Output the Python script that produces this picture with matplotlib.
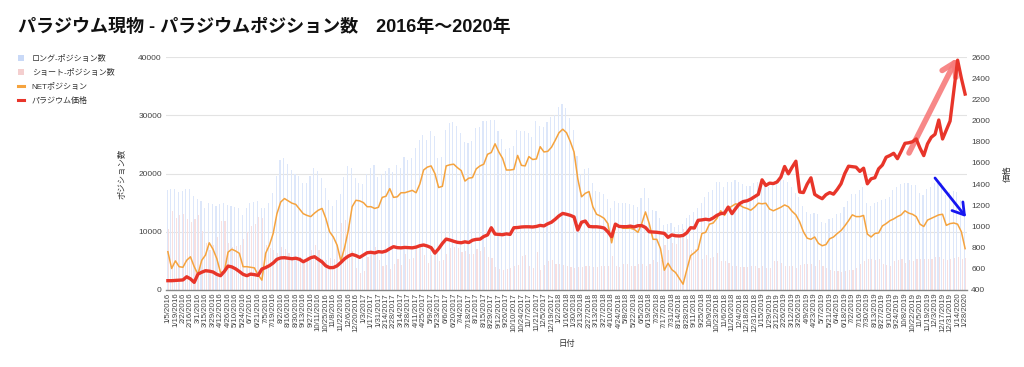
import matplotlib
matplotlib.use("Agg")
import matplotlib.pyplot as plt
from matplotlib.patches import Patch
from matplotlib.lines import Line2D
import pandas as pd
import numpy as np

plt.rcParams['font.family'] = ['Liberation Sans', 'Noto Sans CJK JP', 'DejaVu Sans']

# ---------------- data ----------------
dates = pd.date_range('2016-01-05', periods=213, freq='7D')
date_labels = [f"{d.month}/{d.day}/{d.year}" for d in dates]
date_labels[156] = "12/31/2018"

long_pos = [
    17100, 17300, 17400, 16800, 17000, 17300, 17300, 16200, 15600, 15200,
    14000, 15000, 14700, 14500, 14800, 15000, 14600, 14400, 14300, 14000,
    12800, 14000, 14900, 15100, 15200, 14000, 14000, 14900, 16600, 19500,
    22400, 22700, 21600, 20600, 20000, 19500, 18300, 18400, 19500, 21000,
    20500, 19300, 17500, 15500, 14500, 15400, 16500, 19400, 21300, 21000,
    19200, 18300, 18200, 19900, 21000, 21400, 19400, 20000, 20400, 21000,
    20300, 21400, 21000, 22800, 22300, 22600, 24300, 25800, 26600, 25700,
    27300, 26400, 22600, 22900, 27400, 28700, 28900, 28200, 27000, 25400,
    25300, 25500, 27800, 28000, 29000, 29000, 29100, 29100, 27300, 26000,
    24200, 24300, 24800, 27400, 27300, 27300, 27000, 26200, 29000, 28100,
    28000, 28800, 29700, 30100, 31400, 31900, 31200, 29500, 27500, 23000,
    20000, 20800, 21000, 18300, 17000, 16800, 16500, 15600, 14000, 15200,
    15000, 15000, 15000, 14800, 14600, 14300, 15800, 17500, 15800, 13800,
    13500, 12300, 11200, 11400, 11500, 10900, 11200, 11400, 12300, 12800,
    13400, 14000, 15000, 15900, 16800, 17200, 18600, 18500, 17700, 18600,
    18600, 18900, 18600, 18200, 17900, 17900, 18300, 18600, 18900, 18600,
    17700, 18600, 18900, 18900, 18800, 18500, 17700, 16600, 16000, 14400,
    13400, 13100, 13300, 13100, 11700, 11500, 12200, 12400, 13000, 13300,
    14200, 15300, 16400, 16400, 17100, 17700, 15000, 14500, 14900, 15100,
    15400, 15700, 16000, 17100, 17700, 18200, 18300, 18400, 18000, 18000,
    16600, 16300, 17400, 17700, 18300, 18500, 18300, 16300, 16800, 17000,
    16900, 15400, 12600,
]

short_pos = [
    10500, 13600, 12400, 12800, 13100, 12200, 11600, 12200, 12900, 10100,
    8000, 6900, 7700, 9100, 11800, 11900, 8100, 7400, 7600, 7700,
    8800, 10000, 11000, 11300, 12600, 12300, 7700, 7200, 6900, 6400,
    7300, 7000, 6300, 5700, 5300, 5600, 5200, 5600, 6900, 7800,
    6800, 5300, 5200, 5500, 5400, 7700, 11500, 12100, 11000, 6700,
    3800, 3000, 3200, 5600, 6700, 7400, 5200, 4100, 4300, 3600,
    4400, 5400, 4300, 6100, 5400, 5500, 7600, 7600, 6000, 4600,
    6000, 6400, 5000, 5100, 6100, 7200, 7300, 7200, 6500, 6700,
    6100, 6200, 7000, 6700, 7400, 5700, 5500, 4000, 3600, 3400,
    3600, 3700, 4100, 4300, 5900, 6000, 4100, 3800, 6500, 3500,
    4300, 5000, 5200, 4400, 4400, 4300, 4200, 4000, 3800, 3900,
    4000, 4200, 4100, 4000, 4000, 4100, 4200, 4200, 5900, 4200,
    4000, 4400, 4400, 4200, 4200, 4400, 4400, 4100, 4400, 5100,
    4800, 5200, 7800, 6800, 8000, 7900, 9200, 10400, 8800, 6900,
    7000, 7000, 5300, 6000, 5500, 5700, 6300, 4900, 4900, 4600,
    4200, 4100, 4000, 4000, 3900, 4200, 4100, 3700, 4100, 3700,
    3800, 5000, 5000, 4700, 4200, 4200, 4200, 3700, 4300, 4400,
    4500, 4400, 4200, 5100, 4100, 3700, 3400, 3300, 3300, 3100,
    3200, 3400, 3500, 3800, 4500, 4900, 5400, 5400, 5200, 5300,
    4400, 4300, 4100, 4900, 5100, 5300, 4700, 5200, 5000, 5400,
    5300, 5400, 5400, 5400, 5700, 5600, 5300, 5200, 5400, 5500,
    5600, 5400, 5500,
]

net_pos = [
    6570, 3700, 5000, 4000, 3900, 5100, 5700, 4000, 2700, 5100,
    6000, 8100, 7000, 5400, 3000, 3100, 6500, 7000, 6700, 6300,
    4000, 4000, 3900, 3800, 2600, 1700, 6300, 7700, 9700, 13100,
    15100, 15700, 15300, 14900, 14700, 13900, 13100, 12800, 12600, 13200,
    13700, 14000, 12300, 10000, 9100, 7700, 5000, 7300, 10300, 14300,
    15400, 15300, 15000, 14300, 14300, 14000, 14200, 15900, 16100, 17400,
    15900, 16000, 16700, 16700, 16900, 17100, 16700, 18200, 20600, 21100,
    21300, 20000, 17600, 17800, 21300, 21500, 21600, 21000, 20500, 18700,
    19200, 19300, 20800, 21300, 21600, 23300, 23600, 25100, 23700, 22600,
    20600, 20600, 20700, 23100, 21400, 21300, 22900, 22400, 22500, 24600,
    23700, 23800, 24500, 25700, 27000, 27600, 27000, 25500, 23700, 19100,
    16000, 16600, 16900, 14300, 13000, 12700, 12300, 11400, 8100, 11000,
    11000, 10600, 10600, 10600, 10400, 9900, 11400, 13400, 11400, 8700,
    8700, 7100, 3400, 4600, 3500, 3000, 2000, 1000, 3500, 5900,
    6400, 7000, 9700, 9900, 11300, 11500, 12300, 13600, 12800, 14000,
    14400, 14800, 14600, 14200, 14000, 13700, 14200, 14900, 14800, 14900,
    13900, 13600, 13900, 14200, 14600, 14300, 13500, 12900, 11700, 10000,
    8900, 8700, 9100, 8000, 7600, 7800, 8800, 9100, 9700, 10200,
    11000, 11900, 12900, 12600, 12600, 12800, 9600, 9100, 9700, 9800,
    11000, 11400, 11900, 12200, 12600, 12900, 13600, 13200, 13000, 12600,
    11300, 10900, 12000, 12300, 12600, 12900, 13000, 11100, 11400, 11500,
    11300, 10000, 7100,
]

price = [
    488, 488, 490, 492, 495, 525, 505, 472, 550, 568,
    582, 578, 570, 548, 535, 575, 626, 618, 600, 575,
    548, 535, 550, 545, 538, 598, 612, 630, 655, 690,
    703, 705, 700, 695, 700, 690, 667, 685, 705, 714,
    690, 665, 628, 611, 612, 628, 660, 695, 720, 736,
    725, 708, 730, 752, 756, 750, 762, 758, 768, 790,
    809, 800, 798, 802, 800, 798, 805, 818, 825, 815,
    800, 748, 790, 840, 881, 872, 860, 850, 846, 855,
    848, 870, 878, 880, 905, 920, 988, 928, 925, 922,
    930, 925, 988, 990, 995, 997, 997, 995, 1000, 1010,
    1005, 1025, 1040, 1068, 1100, 1123, 1115, 1105, 1090, 966,
    1040, 1051, 1000, 997, 997, 993, 985, 950, 903, 1022,
    1000, 998, 998, 1003, 995, 1007, 1008, 990, 950, 948,
    945, 940, 935, 897, 920, 912, 910, 915, 940, 988,
    985, 1058, 1062, 1068, 1062, 1080, 1105, 1121, 1125, 1183,
    1121, 1170, 1215, 1235, 1242, 1258, 1280, 1303, 1440, 1387,
    1409, 1405, 1420, 1466, 1566, 1497, 1560, 1616, 1325, 1320,
    1400, 1459, 1303, 1280, 1262, 1300, 1320, 1305, 1350, 1403,
    1500, 1569, 1565, 1560, 1520, 1550, 1403, 1450, 1460, 1544,
    1580, 1654, 1670, 1691, 1640, 1710, 1785, 1790, 1800, 1826,
    1740, 1669, 1780, 1842, 1870, 2005, 1826, 1910, 1995, 2280,
    2570, 2400, 2250,
]

title = "パラジウム現物 - パラジウムポジション数　2016年〜2020年"
legend_labels = ["ロング-ポジション数", "ショート-ポジション数", "NETポジション", "パラジウム価格"]
left_ticks = [0, 10000, 20000, 30000, 40000]
right_ticks = [400, 600, 800, 1000, 1200, 1400, 1600, 1800, 2000, 2200, 2400, 2600]

# ---------------- figure ----------------
W, H = 1024, 367
fig = plt.figure(figsize=(W / 100, H / 100), dpi=100)
ax = fig.add_axes([166 / W, 1 - 290 / H, (967 - 166) / W, (290 - 57) / H])
ax2 = ax.twinx()

x = np.arange(len(long_pos))
c_long = '#c9d9f7'
c_short = '#f4cfcf'
c_net = '#f5a33e'
c_price = '#e8352a'

ax.bar(x - 0.2, long_pos, width=0.3, color='#dde7fa', linewidth=0, zorder=2)
ax.bar(x + 0.2, short_pos, width=0.3, color='#f8e0e0', linewidth=0, zorder=2)
ax.plot(x, net_pos, color=c_net, lw=1.1, zorder=3)
ax2.plot(x, price, color=c_price, lw=2.4, zorder=4, solid_joinstyle='round')

ax.set_xlim(-0.5, len(x) - 0.5)
ax.set_ylim(0, 40000)
ax2.set_ylim(400, 2600)

ax.set_yticks(left_ticks)
ax.set_yticklabels([str(v) for v in left_ticks])
ax2.set_yticks(right_ticks)
ax2.set_yticklabels([str(v) for v in right_ticks])

ax.set_xticks(x[::2])
ax.set_xticklabels(date_labels[::2], rotation=90, fontsize=5.6, color='#333333')

for a in (ax, ax2):
    for s in a.spines.values():
        s.set_visible(False)
    a.tick_params(axis='both', length=0, labelsize=6, colors='#444444')
ax.tick_params(axis='x', pad=2, labelsize=5.6)
ax.tick_params(axis='y', pad=3)
ax2.tick_params(axis='y', pad=3)
ax.spines['bottom'].set_visible(True)
ax.spines['bottom'].set_color('#888888')
ax.spines['bottom'].set_linewidth(1.0)
ax.spines['bottom'].set_zorder(5)

ax.grid(axis='y', color='#e3e3e3', lw=0.8, zorder=0)
ax.set_axisbelow(True)

ax.set_ylabel("ポジション数", fontsize=6, color='#333333', labelpad=8)
ax2.set_ylabel("価格", fontsize=6, color='#333333', labelpad=10, rotation=90)
ax.set_xlabel("日付", fontsize=6, color='#333333', labelpad=6)

fig.text(18 / W, 1 - 27 / H, title, fontsize=13, fontweight='bold', va='center', ha='left', color='#111111')

handles = [
    Patch(facecolor=c_long, edgecolor='none'),
    Patch(facecolor=c_short, edgecolor='none'),
    Line2D([0], [0], color=c_net, lw=2.2),
    Line2D([0], [0], color=c_price, lw=2.2),
]
fig.legend(handles, legend_labels, loc='upper left', bbox_to_anchor=(14 / W, 1 - 51 / H),
           frameon=False, fontsize=5.8, handlelength=0.8, handleheight=0.8,
           handletextpad=0.9, labelspacing=0.75, borderpad=0, labelcolor='#333333')

# annotation arrows (figure pixel coordinates)
ax.annotate('', xy=(957, H - 58), xytext=(909, H - 153), xycoords='figure pixels',
            textcoords='figure pixels',
            arrowprops=dict(arrowstyle='->,head_length=0.9,head_width=0.55', lw=4.0,
                            color='#f77b7b', alpha=0.9, shrinkA=0, shrinkB=0), zorder=10)
ax.annotate('', xy=(966, H - 217), xytext=(935, H - 178), xycoords='figure pixels',
            textcoords='figure pixels',
            arrowprops=dict(arrowstyle='->,head_length=0.8,head_width=0.5', lw=2.0,
                            color='#1616f0', shrinkA=0, shrinkB=0), zorder=10)

fig.savefig("out.png", dpi=100)
